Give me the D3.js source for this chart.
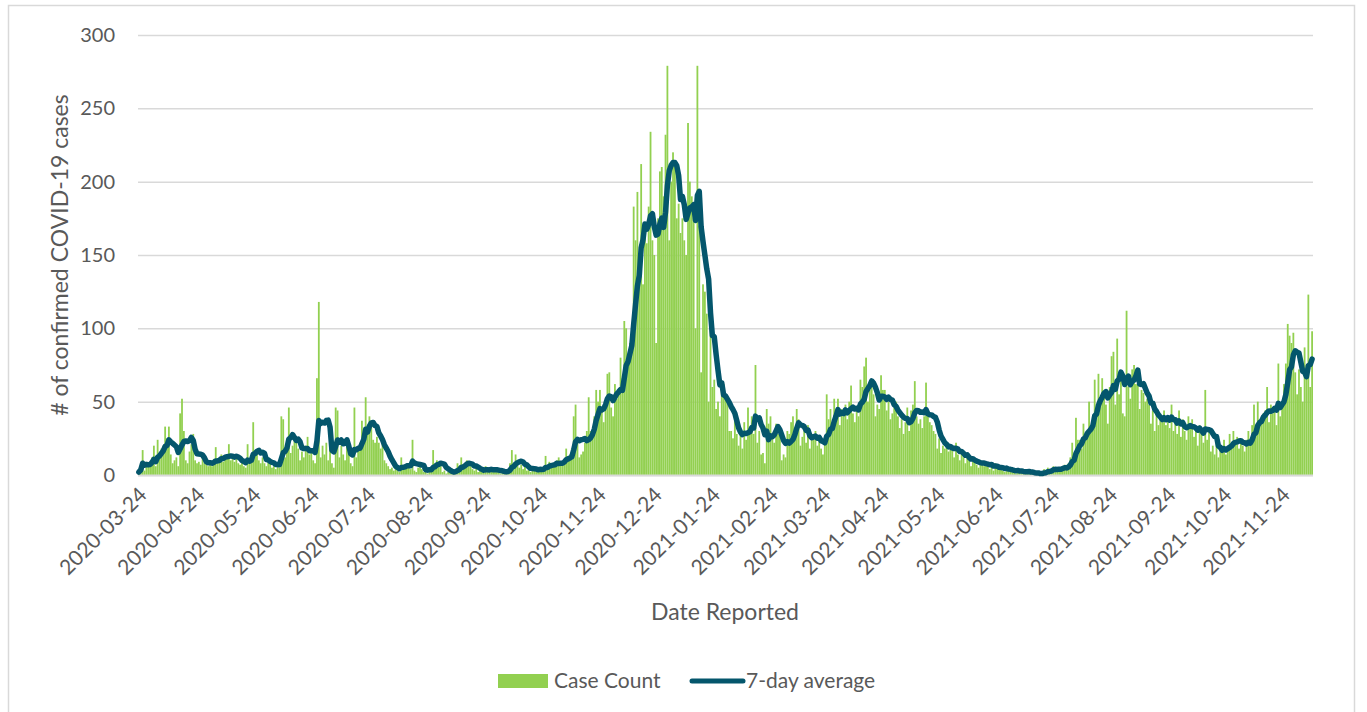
<!DOCTYPE html>
<html>
<head>
<meta charset="utf-8">
<style>
  body { margin: 0; background: #fff; }
  svg { display: block; font-family: Lato, "Open Sans", sans-serif; }
</style>
</head>
<body>
<svg width="1367" height="712"></svg>
<script src="https://d3js.org/d3.v7.min.js"></script>
<script>
// daily case counts, one array per calendar month, first day is 2020-03-24
const mar2020 = [2, 5, 17, 3, 9, 6, 8, 12];
const apr2020 = [20, 6, 24, 15, 18, 20, 33, 25, 33, 14, 8, 10, 12, 6, 42, 52, 30, 10, 8, 16, 21, 28, 10, 8, 9, 7, 12, 8, 9, 6];
const may2020 = [8, 6, 11, 19, 8, 12, 14, 9, 12, 13, 21, 10, 11, 9, 14, 8, 7, 10, 6, 5, 21, 9, 12, 36, 14, 16, 10, 8, 12, 8, 6];
const jun2020 = [12, 9, 5, 6, 4, 8, 5, 40, 38, 12, 22, 46, 15, 20, 26, 24, 18, 10, 16, 12, 20, 26, 14, 18, 10, 8, 66, 118, 12, 20];
const jul2020 = [14, 22, 10, 32, 8, 5, 46, 44, 12, 20, 14, 10, 22, 16, 8, 6, 46, 12, 18, 22, 37, 30, 53, 33, 40, 34, 24, 22, 26, 22, 18];
const aug2020 = [22, 10, 8, 6, 4, 5, 3, 6, 4, 2, 12, 5, 7, 8, 6, 4, 24, 3, 2, 5, 6, 4, 2, 3, 1, 4, 5, 17, 8, 10, 6];
const sep2020 = [6, 2, 3, 1, 2, 3, 1, 2, 4, 8, 6, 12, 5, 7, 10, 8, 6, 4, 3, 5, 2, 4, 3, 2, 6, 3, 4, 5, 2, 3];
const oct2020 = [2, 4, 1, 3, 2, 1, 4, 8, 17, 6, 14, 9, 5, 7, 4, 6, 3, 5, 2, 4, 6, 3, 2, 5, 4, 3, 13, 6, 9, 5, 7];
const nov2020 = [6, 10, 12, 7, 9, 11, 18, 10, 14, 18, 40, 48, 22, 12, 14, 16, 22, 30, 53, 30, 28, 40, 58, 50, 58, 46, 36, 48, 69, 70];
const dec2020 = [46, 40, 62, 52, 58, 80, 66, 105, 100, 80, 90, 96, 183, 160, 193, 150, 212, 130, 170, 158, 183, 234, 160, 150, 90, 175, 207, 210, 190, 232, 279];
const jan2021 = [160, 200, 220, 210, 175, 185, 165, 175, 160, 150, 240, 200, 190, 175, 100, 279, 170, 70, 130, 125, 110, 50, 120, 60, 65, 45, 50, 40, 60, 62, 55];
const feb2021 = [50, 30, 30, 25, 42, 28, 20, 30, 18, 36, 24, 46, 32, 40, 28, 75, 22, 30, 14, 15, 8, 45, 35, 40, 26, 22, 35, 28];
const mar2021 = [30, 10, 14, 12, 30, 28, 36, 40, 32, 45, 38, 20, 26, 30, 22, 34, 18, 28, 24, 30, 20, 26, 18, 14, 22, 55, 38, 45, 30, 52, 40];
const apr2021 = [52, 34, 45, 40, 48, 38, 50, 61, 42, 36, 44, 40, 65, 60, 74, 80, 50, 58, 62, 55, 40, 48, 45, 68, 58, 58, 44, 50, 38, 42];
const may2021 = [46, 50, 40, 32, 38, 28, 36, 46, 30, 44, 48, 64, 40, 35, 38, 32, 40, 63, 44, 36, 34, 30, 28, 18, 25, 15, 20, 18, 22, 16, 20];
const jun2021 = [18, 12, 22, 14, 10, 16, 12, 8, 14, 10, 6, 12, 9, 7, 5, 10, 8, 6, 9, 7, 4, 6, 3, 8, 5, 4, 6, 3, 2, 5];
const jul2021 = [3, 4, 2, 3, 1, 4, 2, 3, 2, 1, 3, 2, 1, 2, 0, 1, 1, 0, 2, 4, 3, 5, 2, 3, 6, 4, 3, 5, 4, 6, 7];
const aug2021 = [5, 8, 12, 22, 10, 39, 24, 24, 18, 35, 28, 30, 50, 34, 40, 65, 45, 69, 52, 66, 53, 48, 35, 60, 81, 84, 48, 93, 55, 70, 42];
const sep2021 = [40, 112, 60, 52, 72, 75, 62, 68, 45, 58, 56, 50, 52, 48, 35, 44, 30, 44, 34, 42, 36, 44, 34, 40, 32, 48, 30, 36, 28, 44];
const oct2021 = [26, 38, 30, 24, 40, 34, 38, 26, 32, 20, 34, 28, 22, 58, 24, 30, 16, 20, 14, 22, 12, 18, 16, 24, 14, 20, 28, 18, 30, 22, 26];
const nov2021 = [18, 22, 20, 16, 24, 30, 22, 34, 48, 28, 50, 38, 36, 42, 44, 60, 36, 48, 42, 46, 34, 76, 40, 50, 62, 76, 103, 95, 90, 97];
const dec2021 = [70, 55, 72, 60, 50, 87, 75, 123, 60, 98];

const caseCount = [].concat(mar2020, apr2020, may2020, jun2020, jul2020, aug2020, sep2020, oct2020,
  nov2020, dec2020, jan2021, feb2021, mar2021, apr2021, may2021, jun2021, jul2021, aug2021,
  sep2021, oct2021, nov2021, dec2021);

const firstDay = "2020-03-24";
const yTicks = [0, 50, 100, 150, 200, 250, 300];
const xTickLabels = ["2020-03-24", "2020-04-24", "2020-05-24", "2020-06-24", "2020-07-24", "2020-08-24",
  "2020-09-24", "2020-10-24", "2020-11-24", "2020-12-24", "2021-01-24", "2021-02-24", "2021-03-24",
  "2021-04-24", "2021-05-24", "2021-06-24", "2021-07-24", "2021-08-24", "2021-09-24", "2021-10-24",
  "2021-11-24"];

const parse = d3.timeParse("%Y-%m-%d");
const fmt = d3.timeFormat("%Y-%m-%d");
const days = caseCount.map((v, i) => fmt(d3.timeDay.offset(parse(firstDay), i)));

// trailing 7-day average (shorter window for the first days)
const avg7 = caseCount.map((v, i) => d3.mean(caseCount.slice(Math.max(0, i - 6), i + 1)));

const textColor = "#595959";
const gridColor = "#d9d9d9";
const barColor = "#92d050";
const lineColor = "#04566c";

const svg = d3.select("svg");

// chart border
svg.append("rect")
  .attr("x", 8.5).attr("y", 5.5)
  .attr("width", 1346).attr("height", 720)
  .attr("fill", "none").attr("stroke", gridColor).attr("stroke-width", 1.5);

const x = d3.scaleBand().domain(days).range([138, 1313]).paddingInner(0.04);
const y = d3.scaleLinear().domain([0, 300]).range([475, 35]);

// y axis + gridlines
const gy = svg.append("g")
  .attr("transform", "translate(138,0)")
  .call(d3.axisLeft(y).tickValues(yTicks).tickSize(-(1313 - 138)).tickPadding(23));
gy.select(".domain").remove();
gy.selectAll(".tick line").attr("stroke", gridColor).attr("stroke-width", 1.5);
gy.selectAll(".tick text")
  .attr("fill", textColor).attr("font-size", "20px").attr("font-family", "Lato, sans-serif");

// bars
svg.append("g").selectAll("rect").data(caseCount).enter().append("rect")
  .attr("x", (d, i) => x(days[i]))
  .attr("width", x.bandwidth())
  .attr("y", d => y(d))
  .attr("height", d => y(0) - y(d))
  .attr("fill", barColor);

// baseline
svg.append("line")
  .attr("x1", 138).attr("x2", 1313)
  .attr("y1", y(0) + 0.5).attr("y2", y(0) + 0.5)
  .attr("stroke", gridColor).attr("stroke-width", 2);

// 7-day average line
const line = d3.line()
  .x((d, i) => x(days[i]) + x.bandwidth() / 2)
  .y(d => y(d));
svg.append("path")
  .datum(avg7)
  .attr("d", line)
  .attr("fill", "none")
  .attr("stroke", lineColor)
  .attr("stroke-width", 5.5)
  .attr("stroke-linejoin", "round")
  .attr("stroke-linecap", "round");

// x axis
const gx = svg.append("g")
  .attr("transform", "translate(0,475)")
  .call(d3.axisBottom(x).tickValues(xTickLabels).tickSize(0));
gx.select(".domain").remove();
gx.selectAll(".tick text")
  .attr("fill", textColor).attr("font-size", "21px").attr("font-family", "Lato, sans-serif")
  .attr("text-anchor", "end")
  .attr("x", 0).attr("y", 0).attr("dy", "0.35em")
  .attr("transform", "translate(4,16) rotate(-45)");

// axis titles
svg.append("text")
  .attr("transform", "translate(60,255) rotate(-90)")
  .attr("text-anchor", "middle").attr("dy", "0.35em")
  .attr("fill", textColor).attr("font-size", "23px")
  .text("# of confirmed COVID-19 cases");

svg.append("text")
  .attr("x", 725).attr("y", 620)
  .attr("text-anchor", "middle")
  .attr("fill", textColor).attr("font-size", "23px")
  .text("Date Reported");

// legend
const lg = svg.append("g");
lg.append("rect").attr("x", 498).attr("y", 674).attr("width", 50).attr("height", 14).attr("fill", barColor);
lg.append("text").attr("x", 554).attr("y", 681).attr("dy", "0.35em")
  .attr("fill", textColor).attr("font-size", "21px").text("Case Count");
lg.append("line").attr("x1", 692).attr("x2", 743).attr("y1", 681).attr("y2", 681)
  .attr("stroke", lineColor).attr("stroke-width", 5).attr("stroke-linecap", "round");
lg.append("text").attr("x", 746).attr("y", 681).attr("dy", "0.35em")
  .attr("fill", textColor).attr("font-size", "21px").text("7-day average");
</script>
</body>
</html>
